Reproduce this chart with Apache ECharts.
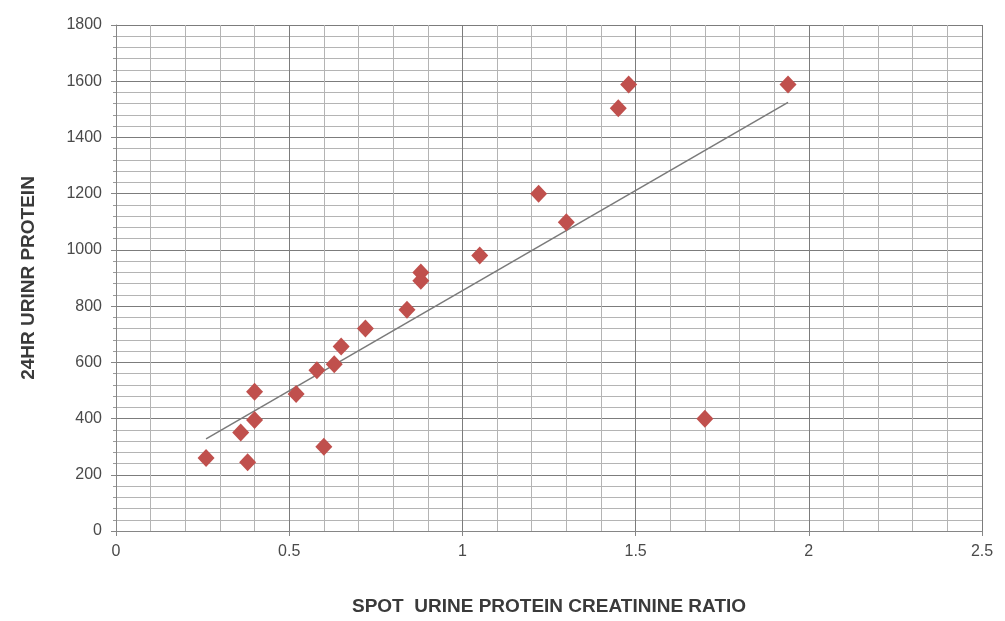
<!DOCTYPE html>
<html>
<head>
<meta charset="utf-8">
<script src="https://cdn.jsdelivr.net/npm/echarts@6/dist/echarts.min.js"></script>
<style>
  html, body { margin: 0; padding: 0; background: #fff; }
  #chart { width: 1005px; height: 621px; }
</style>
</head>
<body>
<div id="chart"></div>
<script>
// spot urine protein creatinine ratio vs 24hr urine protein
var ratioX = [0.26, 0.36, 0.38, 0.40, 0.40, 0.52, 0.60, 0.58, 0.63, 0.65, 0.72, 0.84, 0.88, 0.88, 1.05, 1.22, 1.30, 1.45, 1.48, 1.70, 1.94];
var proteinY = [260, 350, 245, 395, 495, 487, 300, 572, 593, 656, 720, 787, 920, 890, 980, 1200, 1098, 1504, 1588, 399, 1588];
// trend line end points
var trendX = [0.26, 1.94];
var trendY = [328, 1525];

var points = ratioX.map(function (x, i) { return [x, proteinY[i]]; });
var trend = trendX.map(function (x, i) { return [x, trendY[i]]; });

var chart = echarts.init(document.getElementById('chart'));
var labelFont = { color: '#4a4a4a', fontSize: 16, fontFamily: 'Liberation Sans, Arial, sans-serif' };

chart.setOption({
  backgroundColor: '#fff',
  animation: false,
  grid: { left: 116, right: 23, top: 25, bottom: 86 },
  xAxis: {
    type: 'value',
    min: 0, max: 2.5, interval: 0.5,
    name: 'SPOT  URINE PROTEIN CREATININE RATIO',
    nameLocation: 'middle',
    nameGap: 66,
    nameTextStyle: { color: '#3a3a3a', fontSize: 19, fontWeight: 'bold', fontFamily: 'Liberation Sans, Arial, sans-serif' },
    axisLine: { show: true, lineStyle: { color: '#868686' } },
    axisTick: { show: true, length: 5, lineStyle: { color: '#868686' } },
    axisLabel: Object.assign({ margin: 13 }, labelFont),
    splitLine: { show: true, lineStyle: { color: '#7c7c7c', width: 1 } },
    minorTick: { show: false, splitNumber: 5 },
    minorSplitLine: { show: true, lineStyle: { color: '#b4b4b4', width: 1 } }
  },
  yAxis: {
    type: 'value',
    min: 0, max: 1800, interval: 200,
    name: '24HR URINR PROTEIN',
    nameLocation: 'middle',
    nameGap: 78,
    nameTextStyle: { color: '#3a3a3a', fontSize: 19, fontWeight: 'bold', fontFamily: 'Liberation Sans, Arial, sans-serif' },
    axisLine: { show: true, lineStyle: { color: '#868686' } },
    axisTick: { show: true, length: 5, lineStyle: { color: '#868686' } },
    axisLabel: Object.assign({ margin: 14, formatter: function (v) { return String(v); } }, labelFont),
    splitLine: { show: true, lineStyle: { color: '#7c7c7c', width: 1 } },
    minorTick: { show: true, splitNumber: 5, length: 3, lineStyle: { color: '#9a9a9a' } },
    minorSplitLine: { show: true, lineStyle: { color: '#b4b4b4', width: 1 } }
  },
  series: [
    {
      type: 'line',
      data: trend,
      symbol: 'none',
      lineStyle: { color: '#7a7a7a', width: 1.5 },
      z: 2
    },
    {
      type: 'scatter',
      data: points,
      symbol: 'diamond',
      symbolSize: [17, 18],
      itemStyle: { color: '#c0504d', opacity: 1 },
      z: 3
    }
  ]
});
</script>
</body>
</html>
